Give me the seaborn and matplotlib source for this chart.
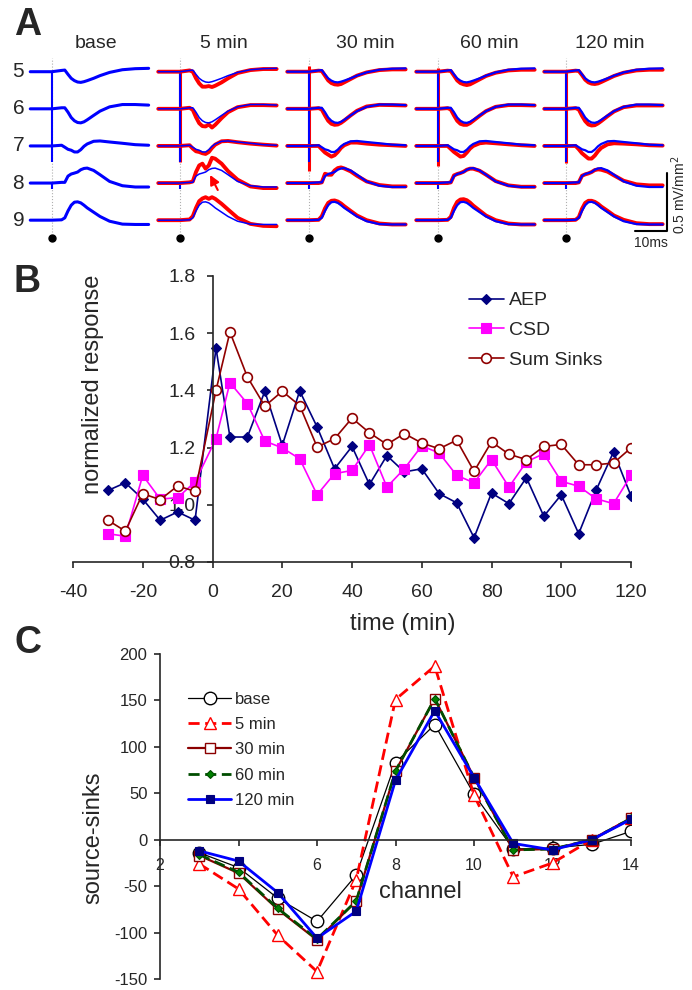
import numpy as np
import pandas as pd
import seaborn as sns
import matplotlib.pyplot as plt

# ---------------- panel A: CSD traces (mV/mm2), time in ms after stimulus ----------------
t_ms = [-6.8, 0, 3, 4, 5, 6, 7, 8, 9, 10, 11, 13, 15, 18, 22, 26, 30.2]
channels_a = ['5', '6', '7', '8', '9']
conditions = ['base', '5 min', '30 min', '60 min', '120 min']

# baseline traces (blue), one row per channel 5..9
base_tr = [
    [0, 0, .011, .014, -.023, -.057, -.077, -.089, -.092, -.086, -.077, -.057, -.034, -.006, .017, .026, .029],
    [0, 0, .009, .009, -.029, -.075, -.103, -.118, -.121, -.112, -.095, -.057, -.020, .017, .037, .037, .032],
    [0, 0, .006, -.011, -.029, -.037, -.052, -.052, -.032, -.003, .017, .040, .043, .034, .023, .011, .006],
    [0, 0, .006, .006, .060, .078, .086, .095, .115, .126, .129, .109, .072, .014, -.023, -.034, -.034],
    [0, 0, .003, .020, .080, .129, .155, .158, .149, .129, .106, .069, .032, -.009, -.034, -.037, -.037],
]
# traces after treatment (red)
red_5min = [
    [0, 0, .011, 0, -.057, -.101, -.129, -.129, -.124, -.132, -.121, -.092, -.057, -.011, .014, .023, .023],
    [0, 0, .009, -.009, -.072, -.124, -.149, -.152, -.135, -.161, -.138, -.080, -.029, .014, .032, .032, .029],
    [0, 0, .006, -.023, -.046, -.052, -.063, -.069, -.052, -.017, .011, .040, .043, .032, .020, .011, .003],
    [0, 0, .006, .014, .095, .152, .167, .124, .152, .218, .210, .167, .103, .029, -.029, -.043, -.043],
    [0, 0, .006, .034, .106, .164, .187, .198, .184, .198, .184, .141, .092, .020, -.032, -.049, -.052],
]
red_30min = [
    [0, 0, .009, .006, -.034, -.075, -.098, -.109, -.112, -.106, -.092, -.063, -.034, -.006, .014, .020, .020],
    [0, 0, .006, -.006, -.057, -.103, -.129, -.138, -.135, -.121, -.101, -.057, -.017, .020, .034, .032, .029],
    [0, 0, 0, -.029, -.057, -.075, -.092, -.080, -.052, -.017, .006, .029, .029, .020, .011, .006, 0],
    [0, 0, 0, .006, .080, .072, .072, .109, .129, .135, .126, .101, .063, .014, -.017, -.029, -.029],
    [0, 0, .003, .034, .101, .149, .167, .170, .161, .144, .121, .080, .040, 0, -.029, -.037, -.037],
]
red_60min = [
    [0, 0, .009, .006, -.034, -.075, -.098, -.109, -.115, -.109, -.095, -.066, -.037, -.009, .011, .017, .017],
    [0, 0, .006, -.006, -.057, -.103, -.129, -.138, -.138, -.124, -.103, -.060, -.020, .017, .032, .032, .029],
    [0, 0, 0, -.026, -.052, -.072, -.092, -.086, -.057, -.023, 0, .023, .029, .023, .014, .006, 0],
    [0, 0, 0, .006, .066, .078, .086, .098, .115, .124, .124, .106, .072, .017, -.020, -.032, -.032],
    [0, 0, .003, .029, .106, .158, .178, .181, .172, .152, .126, .083, .040, 0, -.029, -.037, -.037],
]
red_120min = [
    [0, 0, .009, .006, -.029, -.069, -.092, -.103, -.106, -.101, -.089, -.063, -.037, -.009, .011, .017, .017],
    [0, 0, .006, -.006, -.060, -.106, -.135, -.144, -.141, -.126, -.106, -.063, -.023, .014, .029, .029, .029],
    [0, 0, 0, -.029, -.063, -.086, -.109, -.109, -.083, -.046, -.017, .014, .023, .020, .014, .006, .003],
    [0, 0, 0, .006, .063, .075, .083, .095, .112, .118, .115, .098, .066, .020, -.011, -.020, -.020],
    [0, 0, .003, .026, .098, .149, .167, .167, .158, .141, .118, .080, .040, .003, -.026, -.034, -.034],
]
red_tr = {'5 min': red_5min, '30 min': red_30min, '60 min': red_60min, '120 min': red_120min}

# stimulus artefact (top, bottom) relative to channel 5 baseline, and small blip on ch 8
art_blue = (0.0, -0.78)
art_red = {'5 min': (0.0, -0.78), '30 min': (0.05, -0.853), '60 min': (0.03, -0.81), '120 min': (0.01, -0.79)}
art_ch8 = -0.05

# ---------------- panel B: normalized response over time ----------------
time_min = [-30, -25, -20, -15, -10, -5, 1, 5, 10, 15, 20, 25, 30, 35, 40, 45, 50, 55, 60,
            65, 70, 75, 80, 85, 90, 95, 100, 105, 110, 115, 120]
aep = [1.05, 1.077, 1.02, 0.946, 0.975, 0.946, 1.548, 1.237, 1.237, 1.397, 1.208, 1.398, 1.272,
       1.126, 1.204, 1.071, 1.172, 1.115, 1.126, 1.039, 1.007, 0.885, 1.041, 1.004, 1.095, 0.96,
       1.035, 0.899, 1.051, 1.185, 1.031]
csd = [0.899, 0.89, 1.103, 1.02, 1.025, 1.08, 1.231, 1.427, 1.354, 1.223, 1.199, 1.161, 1.035,
       1.109, 1.12, 1.21, 1.062, 1.126, 1.206, 1.181, 1.103, 1.077, 1.158, 1.062, 1.15, 1.179,
       1.082, 1.065, 1.021, 1.004, 1.103]
sum_sinks = [0.946, 0.908, 1.039, 1.018, 1.066, 1.047, 1.40, 1.604, 1.447, 1.345, 1.397, 1.347,
             1.202, 1.231, 1.303, 1.252, 1.211, 1.249, 1.216, 1.196, 1.226, 1.117, 1.22, 1.177,
             1.158, 1.204, 1.211, 1.14, 1.14, 1.146, 1.199]

# ---------------- panel C: source-sinks per channel ----------------
channel = [3, 4, 5, 6, 7, 8, 9, 10, 11, 12, 13, 14]
c_base = [-14, -30, -63, -88, -38, 83, 124, 49, -10, -9, -5, 9]
c_5min = [-26, -53, -103, -142, -43, 151, 187, 48, -40, -25, 0, 23]
c_30min = [-17, -36, -75, -108, -66, 74, 152, 67, -11, -10, 0, 23]
c_60min = [-16, -35, -74, -107, -66, 74, 152, 67, -11, -10, 0, 23]
c_120min = [-12, -23, -57, -106, -77, 64, 139, 67, -4, -11, 0, 22]

sns.set_style('ticks')
plt.rcParams['font.family'] = ['Liberation Sans', 'DejaVu Sans']
plt.rcParams['axes.unicode_minus'] = False

W, H = 692, 990
fig = plt.figure(figsize=(W / 100, H / 100), dpi=100)

BLUE, RED = '#0000FF', '#FF0000'

# ---- A ----
stim_px = [52, 180, 309, 438, 566]
px_ms = 3.2
ch_gap = 0.32
title_t = [13.7, 13.7, 17.5, 16.0, 13.7]
for i, cond in enumerate(conditions):
    s = stim_px[i]
    ax = fig.add_axes([(s - 8 * px_ms) / W, 1 - 245 / H, 39 * px_ms / W, 190 / H])
    ax.set_xlim(-8, 31)
    ax.set_ylim(-1.494, 0.144)
    ax.axis('off')
    ax.vlines(0, -1.382, 0.118, color='#b0b0b0', lw=0.8, linestyles=':')
    ax.plot([0], [-1.434], 'o', color='black', ms=5)
    ax.text(title_t[i], 0.247, cond, fontsize=14, ha='center', va='center', clip_on=False)
    if cond != 'base':
        top, bot = art_red[cond]
        ax.vlines(0, bot, top, color=RED, lw=2.2)
    ax.vlines(0, art_blue[1], art_blue[0], color=BLUE, lw=1.5)
    ax.vlines(0, -3 * ch_gap + art_ch8, -3 * ch_gap, color=BLUE, lw=1.5)
    for k in range(5):
        off = -k * ch_gap
        if cond != 'base':
            sns.lineplot(x=t_ms, y=np.array(red_tr[cond][k]) + off, ax=ax, color=RED, lw=2.8)
        lw_b = 2.2 if cond == 'base' else (1.1 if cond == '5 min' else 1.6)
        sns.lineplot(x=t_ms, y=np.array(base_tr[k]) + off, ax=ax, color=BLUE, lw=lw_b)
        if i == 0:
            ax.text(-10.5, off, channels_a[k], fontsize=15, ha='center', va='center', clip_on=False)
    if cond == '5 min':
        ax.annotate('', xy=(9.4, -0.89), xytext=(11.8, -1.02),
                    arrowprops=dict(arrowstyle='-|>', color=RED, lw=1.5, mutation_scale=14,
                                    shrinkA=0, shrinkB=0))
    if cond == '120 min':
        ax.plot([21.6, 31.6, 31.6], [-1.373, -1.373, -0.873], color='black', lw=1.5, clip_on=False)
        ax.text(26.6, -1.477, '10ms', fontsize=10, ha='center', va='center', clip_on=False)
        ax.text(35.3, -1.063, '0.5 mV/mm$^2$', fontsize=10, rotation=90,
                ha='center', va='center', clip_on=False)

# ---- B ----
axB = fig.add_axes([73 / W, 1 - 562 / H, 558 / W, 286 / H])
sns.lineplot(x=time_min, y=aep, ax=axB, color='#000080', lw=1.2, marker='D', ms=5,
             mfc='#000080', mec='#000080', mew=0.8, label='AEP')
sns.lineplot(x=time_min, y=csd, ax=axB, color='#FF00FF', lw=1.2, marker='s', ms=7,
             mfc='#FF00FF', mec='#FF00FF', mew=0.8, label='CSD')
sns.lineplot(x=time_min, y=sum_sinks, ax=axB, color='#900000', lw=1.2, marker='o', ms=7,
             mfc='white', mec='#900000', mew=1.2, label='Sum Sinks')
axB.set_xlim(-40, 120)
axB.set_ylim(0.8, 1.8)
axB.set_xticks(range(-40, 121, 20))
axB.set_yticks([0.8, 1.0, 1.2, 1.4, 1.6, 1.8])
axB.set_yticklabels(['0.8', '1.0', '1.2', '1.4', '1.6', '1.8'])
sns.despine(ax=axB)
axB.spines['left'].set_position(('data', 0))
for sp in ['left', 'bottom']:
    axB.spines[sp].set_linewidth(1.2)
axB.tick_params(axis='both', labelsize=14, length=4, width=1.2)
axB.tick_params(axis='x', pad=12)
axB.tick_params(axis='y', pad=8)
axB.set_ylabel('normalized response', fontsize=17)
axB.yaxis.set_label_coords(0.036, 0.62)
axB.yaxis.label.set_verticalalignment('center')
axB.set_xlabel('time (min)', fontsize=17)
axB.xaxis.set_label_coords(0.591, -0.217)
axB.xaxis.label.set_verticalalignment('center')
axB.legend(loc='upper left', bbox_to_anchor=(0.695, 0.972), frameon=False, fontsize=14,
           handlelength=1.8, handletextpad=0.3, labelspacing=0.62, borderaxespad=0)

# ---- C ----
axC = fig.add_axes([160 / W, 1 - 979 / H, 471 / W, 325 / H])
sns.lineplot(x=channel, y=c_base, ax=axC, color='black', lw=0.9, marker='o', ms=9,
             mfc='white', mec='black', mew=1.0, label='base')
sns.lineplot(x=channel, y=c_5min, ax=axC, color=RED, lw=2.0, ls=(0, (4, 2)), marker='^', ms=8,
             mfc='white', mec=RED, mew=1.0, label='5 min')
sns.lineplot(x=channel, y=c_30min, ax=axC, color='#8B0000', lw=1.6, marker='s', ms=7.5,
             mfc='white', mec='#8B0000', mew=1.0, label='30 min')
sns.lineplot(x=channel, y=c_60min, ax=axC, color='#004d00', lw=2.0, ls=(0, (4, 2)), marker='D', ms=4.5,
             mfc='#008000', mec='#004d00', mew=0.8, label='60 min')
sns.lineplot(x=channel, y=c_120min, ax=axC, color=BLUE, lw=2.0, marker='s', ms=6,
             mfc='#000080', mec='#000080', mew=0.8, label='120 min')
axC.set_xlim(2, 14)
axC.set_ylim(-150, 200)
axC.set_xticks(range(2, 15, 2))
axC.set_yticks(range(-150, 201, 50))
sns.despine(ax=axC)
axC.spines['bottom'].set_position(('data', 0))
for sp in ['left', 'bottom']:
    axC.spines[sp].set_linewidth(1.2)
axC.tick_params(axis='both', length=4, width=1.2)
axC.tick_params(axis='y', labelsize=12, pad=5)
axC.tick_params(axis='x', labelsize=11.5, pad=9)
axC.text(0.554, 0.268, 'channel', transform=axC.transAxes, fontsize=17, ha='center', va='center')
axC.set_ylabel('source-sinks', fontsize=17)
axC.yaxis.set_label_coords(-0.142, 0.434)
axC.yaxis.label.set_verticalalignment('center')
axC.legend(loc='upper left', bbox_to_anchor=(0.045, 0.905), frameon=False, fontsize=12,
           handlelength=2.6, handletextpad=0.25, labelspacing=0.62, borderaxespad=0)

# panel letters
for letter, y in [('A', 25), ('B', 282), ('C', 643)]:
    fig.text(14 / W, 1 - y / H, letter, fontsize=27, fontweight='bold', ha='left', va='center')

fig.savefig('out.png', dpi=100)
